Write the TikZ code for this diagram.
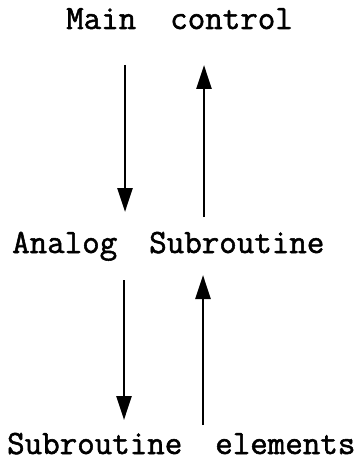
\documentclass[tikz,border=0pt]{standalone}
\usepackage{fontspec}
\newfontfamily\typewriter{Latin Modern Mono}[FakeBold=1.6]
\usetikzlibrary{arrows.meta}
\tikzset{
  label text/.style={anchor=base west, inner sep=0pt, font=\typewriter\fontsize{34}{34}\selectfont},
  flow/.style={line width=2.7pt, -{Triangle[length=24pt,width=15pt]}},
}
\begin{document}
\begin{tikzpicture}[x=1pt,y=-1pt]
  \useasboundingbox (0,0) rectangle (360,462);
  % three levels of the program
  \node[label text] (main) at (66,29) {Main\hspace{34pt}control};
  \node[label text] (analog) at (12,253) {Analog\hspace{32pt}Subroutine};
  \node[label text] (elements) at (7,454) {Subroutine\hspace{33pt}elements};
  % ends of the call and return arrows
  \coordinate (callA) at (125,65);
  \coordinate (callB) at (125,212);
  \coordinate (retA) at (204,217);
  \coordinate (retB) at (204,65);
  \coordinate (callC) at (124,280);
  \coordinate (callD) at (124,420);
  \coordinate (retC) at (203,425);
  \coordinate (retD) at (203,275);
  \draw[flow] (callA) -- (callB);
  \draw[flow] (retA) -- (retB);
  \draw[flow] (callC) -- (callD);
  \draw[flow] (retC) -- (retD);
\end{tikzpicture}
\end{document}
